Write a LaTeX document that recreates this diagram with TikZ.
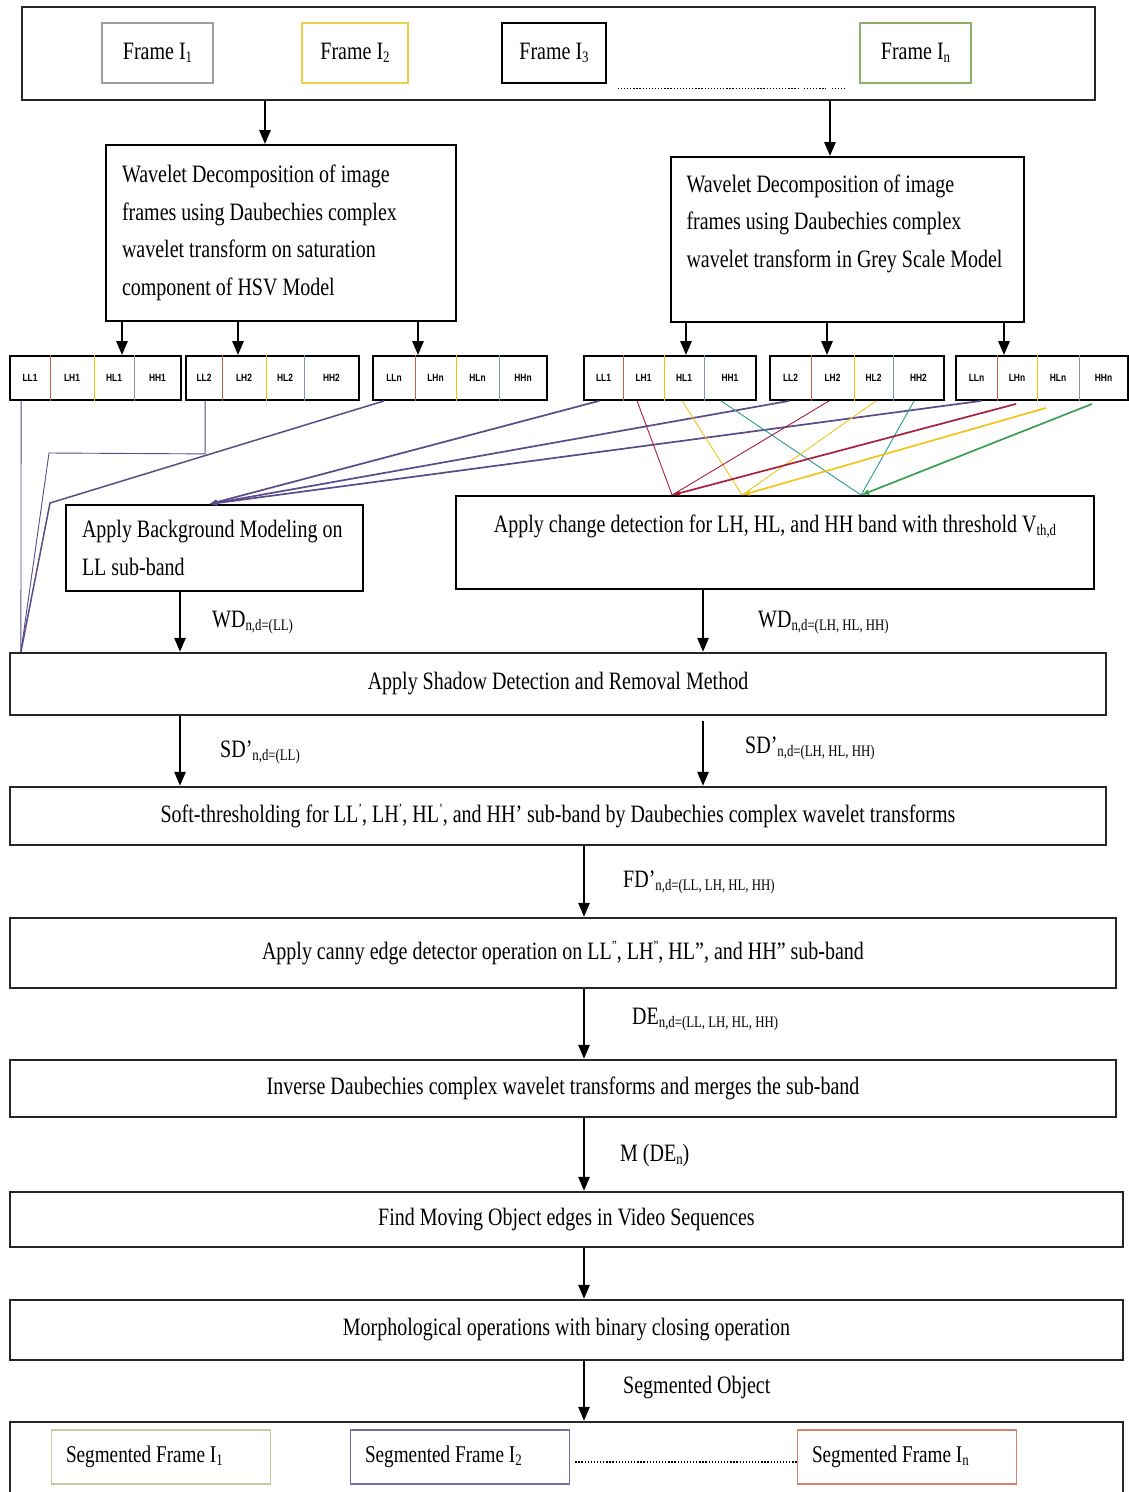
\documentclass[tikz,border=0pt]{standalone}
\usepackage{fontspec}
\setmainfont{Liberation Serif}[FakeStretch=0.8]
\newfontfamily\bandfont{Liberation Sans}[FakeStretch=0.8]
\usetikzlibrary{arrows.meta}
\definecolor{cpurple}{HTML}{5B4A8A}
\definecolor{cred}{HTML}{A8203C}
\definecolor{cyell}{HTML}{F0C419}
\definecolor{cteal}{HTML}{2A9D8F}
\definecolor{cgreen}{HTML}{3AA04E}
\definecolor{dlh}{HTML}{C0604D}
\definecolor{dhl}{HTML}{F2C500}
\definecolor{dhh}{HTML}{7F95B5}
\definecolor{fgrey}{HTML}{9E9E9E}
\definecolor{fyell}{HTML}{EBCF4A}
\definecolor{fgreen}{HTML}{8DB06B}
\definecolor{sgreen}{HTML}{BCD49A}
\definecolor{spurple}{HTML}{7B68A6}
\definecolor{sorange}{HTML}{D9826B}
\newcommand\lsub[1]{\raisebox{-3pt}{\fontsize{16}{16}\selectfont #1}}
\newcommand\lsup[1]{\raisebox{9pt}{\fontsize{14}{14}\selectfont #1}}
\newcommand\nsp{\spaceskip=0pt\xspaceskip=0pt\relax}
\newcommand\bandbox[7]{%
  \node[bandbx, minimum width={#3-#2}] (#1) at ({(#2+#3)/2},378) {};
  \draw[dlh, line width=1pt] (#1.north -| #4,0) -- (#1.south -| #4,0);
  \draw[dhl, line width=1pt] (#1.north -| #5,0) -- (#1.south -| #5,0);
  \draw[dhh, line width=1pt] (#1.north -| #6,0) -- (#1.south -| #6,0);
  \node[bandlbl] (#1ll) at ({(#2+#4)/2},378) {LL#7};
  \node[bandlbl] (#1lh) at ({(#4+#5)/2},378) {LH#7};
  \node[bandlbl] (#1hl) at ({(#5+#6)/2},378) {HL#7};
  \node[bandlbl] (#1hh) at ({(#6+#3)/2},378) {HH#7};
}
\begin{document}
\begin{tikzpicture}[x=1pt,y=-1pt,
  mf/.style={font=\fontsize{25}{37.5}\selectfont},
  sf/.style={font=\fontsize{24}{28}\selectfont},
  bigbox/.style={draw=black!85, line width=2.2pt, inner sep=0pt, mf},
  wbox/.style={draw, line width=1.8pt, inner sep=0pt, mf, align=left},
  fr/.style={draw, line width=1.4pt, minimum height=60, inner sep=0pt, mf},
  sfr/.style={draw, line width=1.4pt, minimum height=54, minimum width=219, inner sep=0pt, sf, text width=190, align=left},
  bandbx/.style={draw, line width=1.8pt, minimum height=44, inner sep=0pt},
  bandlbl/.style={font=\bandfont\bfseries\fontsize{10.5}{11}\selectfont, inner sep=0pt},
  arr/.style={line width=2.6pt, -{Triangle[length=14pt,width=11pt]}},
  lbl/.style={mf, anchor=west, inner sep=0pt},
  thin/.style={line width=0.9pt},
  thick/.style={line width=1.7pt, -{Latex[length=8pt,width=6pt]}},
  dots/.style={line width=1.3pt, dash pattern=on 1.3pt off 1.8pt}
]
\useasboundingbox (0,0) rectangle (1129,1492);
\fill[white] (0,0) rectangle (1129,1492);

% top frames
\node[bigbox, minimum width=1073, minimum height=93] (top) at (558.5,53.5) {};
\node[fr, draw=fgrey, minimum width=111] (f1) at (157.5,53) {Frame I\lsub{1}};
\node[fr, draw=fyell, minimum width=106] (f2) at (355,53) {Frame I\lsub{2}};
\node[fr, draw=black, minimum width=104] (f3) at (554,53) {Frame I\lsub{3}};
\node[fr, draw=fgreen, minimum width=111] (fn) at (915.5,53) {Frame I\lsub{n}};
\draw[dots] ([xshift=11,yshift=-5]f3.south east) -- ++(180,0) ++(6,0) -- ++(22,0) ++(6,0) -- ++(14,0);

% wavelet boxes
\node[wbox, minimum width=350, minimum height=176, text width=318] (wl) at (281,233)
  {\nsp Wavelet Decomposition of image\\frames using Daubechies complex\\wavelet transform on saturation\\component of HSV Model};
\node[wbox, minimum width=353, minimum height=165, text width=322] (wr) at (847.5,239.5)
  {\nsp Wavelet Decomposition of image\\frames using Daubechies complex\\wavelet transform in Grey Scale Model\\\mbox{}};
\draw[arr] (top.south -| 265,0) -- (wl.north -| 265,0);
\draw[arr] (top.south -| 830,0) -- (wr.north -| 830,0);

% sub-band boxes
\bandbox{ba}{10}{181}{50}{94}{134}{1}
\bandbox{bb}{186}{359}{222}{266}{304}{2}
\bandbox{bc}{373}{547}{415}{456}{499}{n}
\bandbox{bd}{584}{756}{623}{664}{704}{1}
\bandbox{be}{770}{944}{811}{854}{893}{2}
\bandbox{bf}{956}{1128}{997}{1037}{1079}{n}

\draw[arr] (wl.south -| 122,0) -- (ba.north -| 122,0);
\draw[arr] (wl.south -| 238,0) -- (bb.north -| 238,0);
\draw[arr] (wl.south -| 418,0) -- (bc.north -| 418,0);
\draw[arr] (wr.south -| 686,0) -- (bd.north -| 686,0);
\draw[arr] (wr.south -| 827,0) -- (be.north -| 827,0);
\draw[arr] (wr.south -| 1004,0) -- (bf.north -| 1004,0);

% middle boxes
\node[bigbox, draw=black, line width=1.8pt, minimum width=297, minimum height=86, text width=265, align=left] (bg) at (214.5,548)
  {\nsp Apply Background Modeling on\\LL sub-band};
\node[bigbox, draw=black, line width=1.8pt, minimum width=638, minimum height=93, align=center] (chg) at (775,542.5)
  {Apply change detection for LH, HL, and HH band with threshold V\lsub{th,d}\\\mbox{}};

\node[bigbox, minimum width=1096, minimum height=62] (shadow) at (558,684) {Apply Shadow Detection and Removal Method};

% connectors from sub-bands
\draw[cpurple, thin] ([xshift=12]ba.south west) -- ([xshift=12]shadow.north west);
\draw[cpurple, thin] ([xshift=20]bb.south west) -- ++(0,53) -- (49,453) -- ([xshift=12]shadow.north west);
\draw[cpurple, line width=1.5pt] ([xshift=12]bc.south west) -- (50,503) -- ([xshift=12]shadow.north west);

\draw[cpurple, thick] ([xshift=16]bd.south west) -- ([xshift=144]bg.north west);
\draw[cpurple, thick] ([xshift=20]be.south west) -- ([xshift=144]bg.north west);
\draw[cpurple, thick] ([xshift=26]bf.south west) -- ([xshift=144]bg.north west);

\draw[cred, thin] ([xshift=54]bd.south west) -- ([xshift=217]chg.north west);
\draw[cyell, thin] ([xshift=99]bd.south west) -- ([xshift=287]chg.north west);
\draw[cteal, thin] ([xshift=138]bd.south west) -- ([xshift=406]chg.north west);
\draw[cred, thin] ([xshift=60]be.south west) -- ([xshift=217]chg.north west);
\draw[cyell, thin] ([xshift=107]be.south west) -- ([xshift=287]chg.north west);
\draw[cteal, thin] ([xshift=145]be.south west) -- ([xshift=406]chg.north west);
\draw[cred, thick] ([xshift=61,yshift=-3]bf.south west) -- ([xshift=217]chg.north west);
\draw[cyell, thick] ([xshift=91,yshift=-7]bf.south west) -- ([xshift=287]chg.north west);
\draw[cgreen, thick] ([xshift=137,yshift=-3]bf.south west) -- ([xshift=406]chg.north west);

\draw[arr] (bg.south -| 180,0) -- (shadow.north -| 180,0);
\draw[arr] (chg.south -| 703,0) -- (shadow.north -| 703,0);
\node[lbl] (l1) at (212,623) {WD\lsub{n,d=(LL)}};
\node[lbl] (l2) at (758,623) {WD\lsub{n,d=(LH, HL, HH)}};

\node[bigbox, minimum width=1096, minimum height=58] (soft) at (558,816)
  {Soft-thresholding for LL\lsup{'}, LH\lsup{'}, HL\lsup{'}, and HH’ sub-band by Daubechies complex wavelet transforms};
\draw[arr] (shadow.south -| 180,0) -- (soft.north -| 180,0);
\draw[arr] ([yshift=-5]shadow.south -| 703,0) -- (soft.north -| 703,0);
\node[lbl] (l3) at (220,752) {SD’\lsub{n,d=(LL)}};
\node[lbl] (l4) at (745,748) {SD’\lsub{n,d=(LH, HL, HH)}};

\node[bigbox, minimum width=1106, minimum height=70] (canny) at (563,953)
  {Apply canny edge detector operation on LL\lsup{''}, LH\lsup{''}, HL”, and HH” sub-band};
\draw[arr] (soft.south -| 584,0) -- (canny.north -| 584,0);
\node[lbl] (l5) at (623,882) {FD’\lsub{n,d=(LL, LH, HL, HH)}};

\node[bigbox, minimum width=1106, minimum height=57] (inv) at (563,1088.5)
  {Inverse Daubechies complex wavelet transforms and merges the sub-band};
\draw[arr] (canny.south -| 584,0) -- (inv.north -| 584,0);
\node[lbl] (l6) at (632,1020) {DE\lsub{n,d=(LL, LH, HL, HH)}};

\node[bigbox, minimum width=1113, minimum height=55] (find) at (566.5,1219.5)
  {Find Moving Object edges in Video Sequences};
\draw[arr] (inv.south -| 584,0) -- (find.north -| 584,0);
\node[lbl] (l7) at (620,1155) {M (DE\lsub{n})};

\node[bigbox, minimum width=1113, minimum height=60] (morph) at (566.5,1330)
  {Morphological operations with binary closing operation};
\draw[arr] (find.south -| 584,0) -- (morph.north -| 584,0);

\node[bigbox, minimum width=1113, minimum height=78] (bot) at (566.5,1461) {};
\draw[arr] (morph.south -| 584,0) -- (bot.north -| 584,0);
\node[lbl] (l8) at (623,1388) {Segmented Object};

\node[sfr, draw=sgreen] (s1) at (161,1457) {\nsp Segmented Frame I\lsub{1}};
\node[sfr, draw=spurple] (s2) at (460,1457) {\nsp Segmented Frame I\lsub{2}};
\node[sfr, draw=sorange] (sn) at (907,1457) {\nsp Segmented Frame I\lsub{n}};
\draw[dots] ([xshift=5,yshift=-5]s2.east) -- ([yshift=-5]sn.west);
\end{tikzpicture}
\end{document}
